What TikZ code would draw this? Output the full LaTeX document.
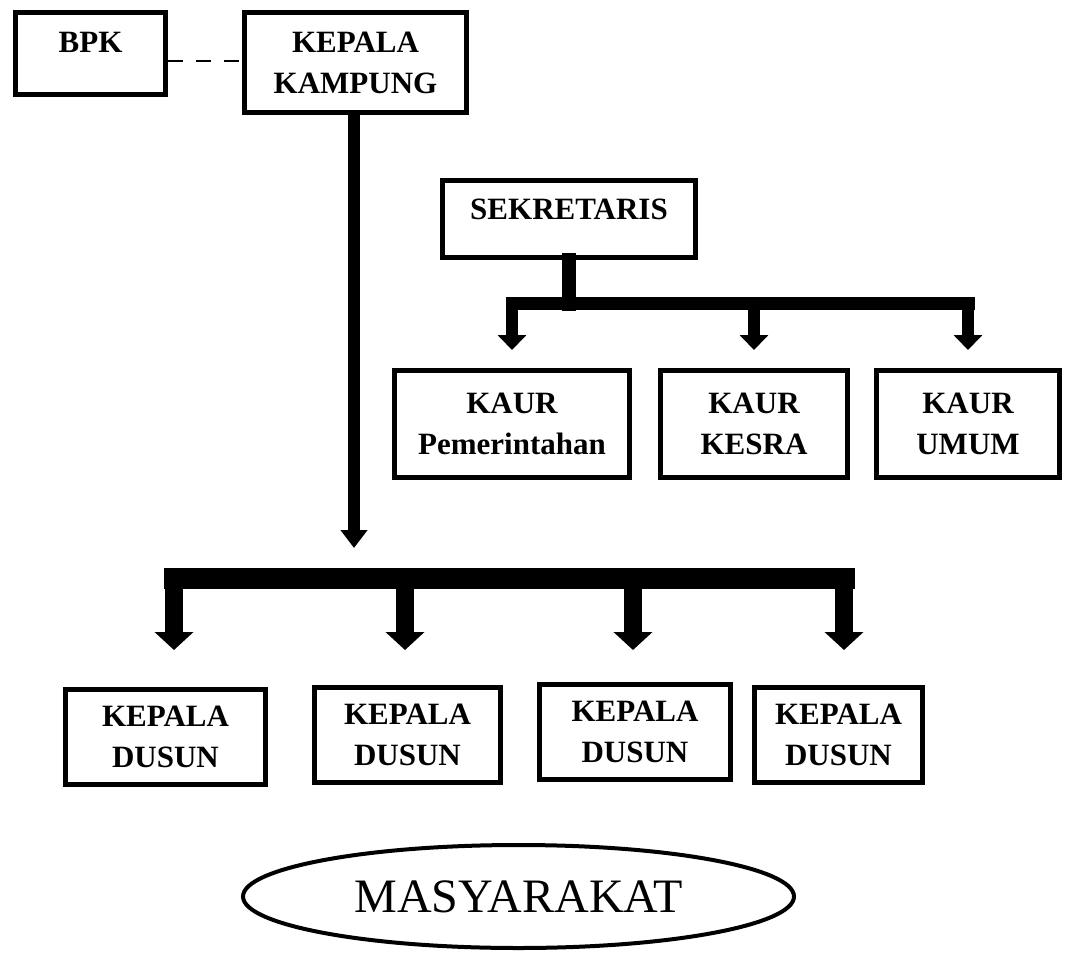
\documentclass[tikz,border=0pt]{standalone}
\usepackage{fontspec}
\setmainfont{Liberation Serif}
\usetikzlibrary{arrows.meta, calc, shapes.geometric}

\begin{document}
\begin{tikzpicture}[x=1pt,y=-1pt,
	box/.style={draw, line width=5pt, inner sep=0pt, align=center, font=\bfseries\fontsize{31}{41}\selectfont},
	bus/.style={line width=#1, line cap=rect},
	mainarrow/.style={line width=12pt, -{Triangle[width=26pt,length=18pt]}},
	smallarrow/.style={line width=12pt, -{Triangle[width=28pt,length=15pt]}},
	bigarrow/.style={line width=18pt, -{Triangle[width=38pt,length=18pt]}}]

	\useasboundingbox (0,0) rectangle (1071,953);

	\node[box, minimum width=150pt, minimum height=82pt, text depth=22pt] (bpk) at (90.5,53.5) {BPK};
	\node[box, minimum width=222pt, minimum height=100pt] (kk) at (355.5,62.5) {KEPALA\\KAMPUNG};
	\node[box, minimum width=253pt, minimum height=77pt, text depth=19pt] (sek) at (569,219) {SEKRETARIS};

	\node[box, minimum width=235pt, minimum height=107pt] (k1) at (512,424) {KAUR\\Pemerintahan};
	\node[box, minimum width=187pt, minimum height=107pt] (k2) at (754,424) {KAUR\\KESRA};
	\node[box, minimum width=183pt, minimum height=107pt] (k3) at (968,424) {KAUR\\UMUM};

	\node[box, minimum width=200pt, minimum height=95pt] (d1) at (165.5,737) {KEPALA\\DUSUN};
	\node[box, minimum width=186pt, minimum height=95pt] (d2) at (407.5,735) {KEPALA\\DUSUN};
	\node[box, minimum width=191pt, minimum height=95pt] (d3) at (635,732) {KEPALA\\DUSUN};
	\node[box, minimum width=168pt, minimum height=95pt] (d4) at (838.5,735) {KEPALA\\DUSUN};

	\node[draw, ellipse, line width=4pt, inner sep=0pt, minimum width=551pt, minimum height=103pt,
		font=\fontsize{48}{58}\selectfont] (mas) at (518.5,896.5) {MASYARAKAT};

	\coordinate (dl) at (0,61);
	\coordinate (tip) at (354,548);
	\coordinate (sbar) at (0,303.5);
	\coordinate (dbar) at (0,578.5);
	\coordinate (a1) at (174,650);
	\coordinate (a2) at (405,650);
	\coordinate (a3) at (633,650);
	\coordinate (a4) at (844,650);

	\draw [line width=2pt, dash pattern=on 15pt off 13pt] (bpk.east |- dl) -- (kk.west |- dl);
	\draw [mainarrow] (kk.south -| tip) -- (tip);

	\draw [bus=14pt] (sek.south) -- (sek.south |- sbar);
	\draw [bus=13pt] (sbar -| k1) -- (sbar -| k3);
	\draw [smallarrow, shorten >=18pt] (sbar -| k1) -- (k1.north);
	\draw [smallarrow, shorten >=18pt] (sbar -| k2) -- (k2.north);
	\draw [smallarrow, shorten >=18pt] (sbar -| k3) -- (k3.north);

	\draw [bus=21pt] (dbar -| a1) -- (dbar -| a4);
	\draw [bigarrow] (a1 |- dbar) -- (a1);
	\draw [bigarrow] (a2 |- dbar) -- (a2);
	\draw [bigarrow] (a3 |- dbar) -- (a3);
	\draw [bigarrow] (a4 |- dbar) -- (a4);

\end{tikzpicture}
\end{document}
